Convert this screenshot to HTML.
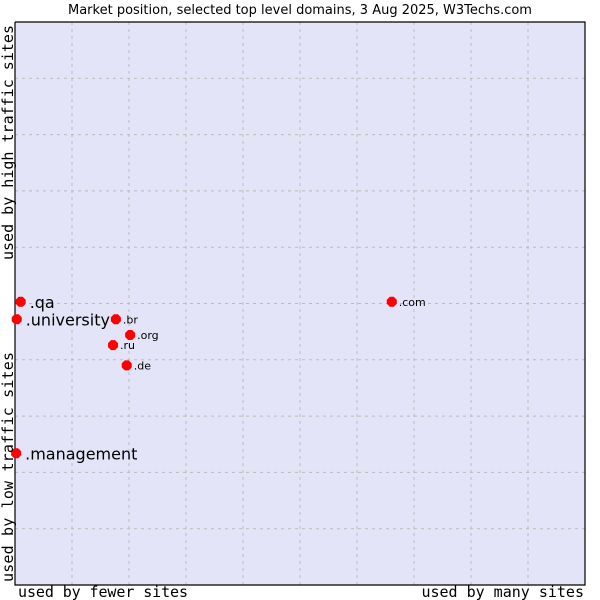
<!DOCTYPE html>
<html><head><meta charset="utf-8"><style>
body{margin:0;background:#fff;width:600px;height:600px;overflow:hidden}
svg{display:block;font-family:"DejaVu Sans","Liberation Sans",sans-serif}
.mono{font-family:"DejaVu Sans Mono","Liberation Mono",monospace;font-size:15px}
</style></head><body>
<svg id="chart" width="600" height="600">
<text x="300" y="14" text-anchor="middle" font-size="13" fill="#000">Market position, selected top level domains, 3 Aug 2025, W3Techs.com</text>
<rect x="15" y="22" width="570" height="563" fill="#e4e4f8"/>
<g id="grid"></g>
<path d="M15 22V585H585V22H15" fill="none" stroke="#000" stroke-width="1.2"/>
<g id="points"></g>
<text class="mono" x="18" y="597" textLength="170">used by fewer sites</text>
<text class="mono" x="584" y="597" text-anchor="end">used by many sites</text>
<text class="mono" transform="translate(13,582) rotate(-90)" textLength="230">used by low traffic sites</text>
<text class="mono" transform="translate(13,260) rotate(-90)" textLength="235">used by high traffic sites</text>
</svg>
<script>
const names=[".qa",".university",".br",".org",".ru",".de",".com",".management"];
const xs=[0.1,0.03,1.77,2.02,1.72,1.96,6.61,0.02];
const ys=[5.03,4.72,4.72,4.44,4.26,3.9,5.03,2.34];
const big=[true,true,false,false,false,false,false,true];
const X0=15,X1=585,Y0=585,Y1=22;
const sx=v=>X0+v/10*(X1-X0), sy=v=>Y0-v/10*(Y0-Y1);
const NS="http://www.w3.org/2000/svg";
const grid=document.getElementById('grid'),pts=document.getElementById('points');
for(let i=1;i<10;i++){
 let l=document.createElementNS(NS,'line');
 l.setAttribute('x1',sx(i));l.setAttribute('x2',sx(i));l.setAttribute('y1',Y1);l.setAttribute('y2',Y0);
 l.setAttribute('stroke','#bbbbbb');l.setAttribute('stroke-dasharray','3,4');
 
 
 grid.appendChild(l);
 let h=document.createElementNS(NS,'line');
 h.setAttribute('x1',X0);h.setAttribute('x2',X1);h.setAttribute('y1',sy(i));h.setAttribute('y2',sy(i));
 h.setAttribute('stroke','#bbbbbb');h.setAttribute('stroke-dasharray','3,4');
 
 
 grid.appendChild(h);
}
names.forEach((n,i)=>{
 const x=sx(xs[i]),y=sy(ys[i]);
 let d=document.createElementNS(NS,'path');
 d.setAttribute('d',`M${x-2} ${y-5}L${x+2} ${y-5}L${x+5} ${y-2}L${x+5} ${y+2}L${x+2} ${y+5}L${x-2} ${y+5}L${x-5} ${y+2}L${x-5} ${y-2}Z`);
 d.setAttribute('fill','#ff0000');
 
 
 pts.appendChild(d);
 let t=document.createElementNS(NS,'text');
 t.setAttribute('x',x+(big[i]?9:7));t.setAttribute('y',y+(big[i]?6:4));
 t.setAttribute('font-size',big[i]?16:11);
 t.textContent=n;
 
 
 pts.appendChild(t);
});
</script>
</body></html>
